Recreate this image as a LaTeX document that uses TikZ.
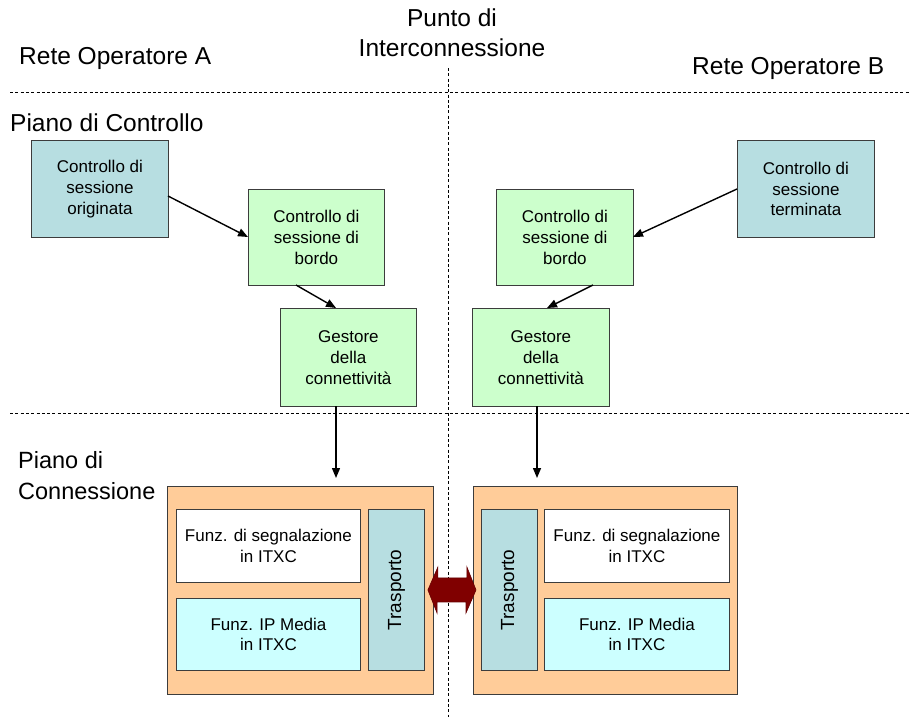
\documentclass[tikz,border=0pt]{standalone}
\usepackage{fontspec}
\setmainfont{Liberation Sans}
\usetikzlibrary{arrows.meta}
\definecolor{teal}{RGB}{183,222,225}
\definecolor{mint}{RGB}{204,255,204}
\definecolor{peach}{RGB}{255,204,153}
\definecolor{aqua}{RGB}{204,255,255}
\definecolor{linkred}{RGB}{128,0,0}
\definecolor{edge}{RGB}{60,60,60}
\tikzset{
  box/.style={draw=edge, line width=0.9pt, anchor=north west, align=center,
    inner sep=0pt, font=\fontsize{17}{20.7}\selectfont},
  divider/.style={line width=1pt, dash pattern=on 3pt off 2.3pt},
  flow/.style={line width=1.4pt, -{Triangle[length=10pt,width=8pt]}},
  title/.style={font=\fontsize{24.5}{30}\selectfont, inner sep=0pt},
}
\begin{document}
\begin{tikzpicture}[x=1pt, y=-1pt]
\useasboundingbox (0,0) rectangle (909,717);

% plane and operator dividers
\draw[divider] (10,92) -- (909,92);
\draw[divider] (10,413) -- (909,413);
\draw[divider] (448,68) -- (448,717);

% headings
\node[title, anchor=west] (opA) at (19,58) {Rete Operatore A};
\node[title, align=center] (poi) at (452,33) {Punto di\\Interconnessione};
\node[title, anchor=west] (opB) at (692,68) {Rete Operatore B};
\node[title, anchor=west] (pc) at (10,123) {Piano di Controllo};
\node[title, anchor=west, align=left, font=\fontsize{23.5}{31}\selectfont] (pconn) at (18,476) {Piano di\\Connessione};

% control plane, operator A
\node[box, fill=teal, minimum width=137pt, minimum height=97pt] (orig) at (31,140) {Controllo di\\sessione\\originata};
\node[box, fill=mint, minimum width=136pt, minimum height=96pt] (bordoA) at (248,189) {Controllo di\\sessione di\\bordo};
\node[box, fill=mint, minimum width=136pt, minimum height=98pt] (gestA) at (280,308) {Gestore\\della\\connettività};

% control plane, operator B
\node[box, fill=teal, minimum width=137pt, minimum height=97pt] (term) at (737,140) {Controllo di\\sessione\\terminata};
\node[box, fill=mint, minimum width=137pt, minimum height=96pt] (bordoB) at (496,189) {Controllo di\\sessione di\\bordo};
\node[box, fill=mint, minimum width=137pt, minimum height=98pt] (gestB) at (472,308) {Gestore\\della\\connettività};

% connection plane, operator A
\node[box, fill=peach, minimum width=266pt, minimum height=208pt] (connA) at (167,486) {};
\node[box, fill=white, minimum width=184pt, minimum height=73pt] (segA) at (176,509) {Funz. di segnalazione\\in ITXC};
\node[box, fill=aqua, minimum width=184pt, minimum height=72pt] (ipA) at (176,598) {Funz. IP Media\\in ITXC};
\node[box, fill=teal, minimum width=56pt, minimum height=161pt] (trA) at (368,509) {};
\node[rotate=90, font=\fontsize{19}{22}\selectfont] at (trA.center) {Trasporto};

% connection plane, operator B
\node[box, fill=peach, minimum width=264pt, minimum height=208pt] (connB) at (473,486) {};
\node[box, fill=teal, minimum width=56pt, minimum height=161pt] (trB) at (481,509) {};
\node[rotate=90, font=\fontsize{19}{22}\selectfont] at (trB.center) {Trasporto};
\node[box, fill=white, minimum width=185pt, minimum height=73pt] (segB) at (544,509) {Funz. di segnalazione\\in ITXC};
\node[box, fill=aqua, minimum width=185pt, minimum height=72pt] (ipB) at (544,598) {Funz. IP Media\\in ITXC};

% control flow
\draw[flow] (168,196) -- (bordoA.west |- 0,237);
\draw[flow] (296,285) -- (336,308);
\draw[flow] (term.west |- 0,189) -- (633,237);
\draw[flow] (593,285) -- (547,308);
\draw[flow] (336,406) -- (336,478);
\draw[flow] (537,406) -- (537,478);

% transport interconnection
\coordinate (tipL) at ([xshift=3pt]trA.east);
\coordinate (tipR) at ([xshift=-5pt]trB.west);
\fill[linkred, draw=linkred!80!black, line width=0.6pt]
  (tipL) -- ++(10,-23) -- ++(0,11) -- ++(29,0) -- ++(0,-11)
  -- (tipR) -- ++(-10,23) -- ++(0,-11) -- ++(-29,0) -- ++(0,11) -- cycle;
\end{tikzpicture}
\end{document}
